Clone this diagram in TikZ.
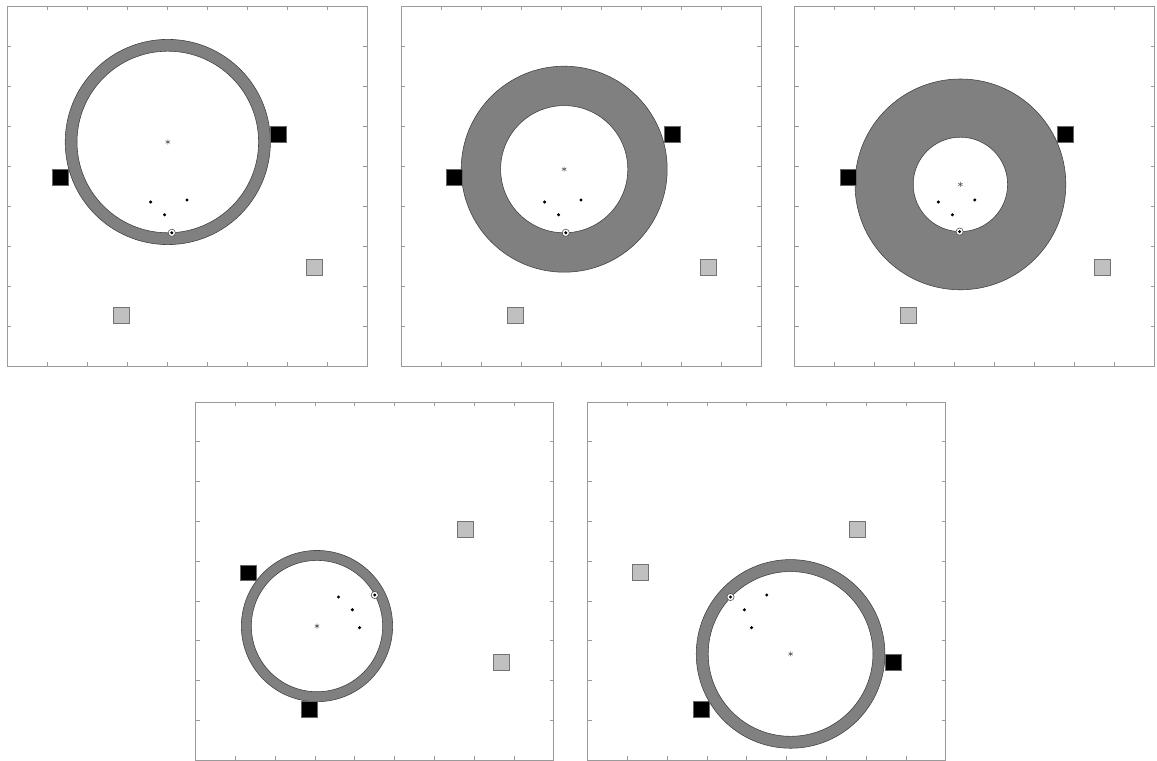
\documentclass[tikz,border=0pt]{standalone}
\usepackage{xcolor}
\usepackage{tikz}
\usetikzlibrary{plotmarks}
\definecolor{RingGray}{HTML}{808080}
\definecolor{BoxGray}{HTML}{C0C0C0}
\definecolor{AxisGray}{HTML}{9A9A9A}
\begin{document}
\begin{tikzpicture}[x=1cm,y=1cm,
  frame/.style={draw=AxisGray,line width=.6pt},
  tickmark/.style={draw=AxisGray,line width=.5pt},
  ring/.style={fill=RingGray,draw=black!75,line width=.4pt,even odd rule},
  blackbox/.style={fill=black,draw=black!60,line width=.3pt},
  greybox/.style={fill=BoxGray,draw=black!55,line width=.5pt},
  centremark/.style={draw=black!65,line width=.4pt,mark=asterisk,mark size=1.8pt},
  ringdot/.style={fill=white,draw=black!70,line width=.4pt}]
\path[use as bounding box] (0,0) rectangle (28.925,19.025);
\fill[white] (0,0) rectangle (28.925,19.025);

% top row, panel 1
\begin{scope}[shift={(0.175,9.875)}]
\draw[frame] (0,0) rectangle (9,9);
\foreach \t in {1,...,8} {
  \draw[tickmark] (\t,0) -- ++(0,.1); \draw[tickmark] (\t,9) -- ++(0,-.1);
  \draw[tickmark] (0,\t) -- ++(.1,0); \draw[tickmark] (9,\t) -- ++(-.1,0);
}
\draw[ring] (4.02,5.60) circle (2.565) (4.02,5.60) circle (2.27);
\draw[blackbox] (6.57,5.60) rectangle (6.97,6.00);
\draw[blackbox] (1.13,4.51) rectangle (1.53,4.91);
\draw[greybox] (7.48,2.27) rectangle (7.88,2.67);
\draw[greybox] (2.65,1.07) rectangle (3.05,1.47);
\path[centremark] plot coordinates {(4.02,5.60)};
\fill (3.59,4.10) circle (0.042);
\fill (4.50,4.15) circle (0.042);
\fill (3.94,3.78) circle (0.042);
\draw[ringdot] (4.12,3.33) circle (0.09);
\fill (4.12,3.33) circle (0.042);
\end{scope}

% top row, panel 2
\begin{scope}[shift={(10.025,9.875)}]
\draw[frame] (0,0) rectangle (9,9);
\foreach \t in {1,...,8} {
  \draw[tickmark] (\t,0) -- ++(0,.1); \draw[tickmark] (\t,9) -- ++(0,-.1);
  \draw[tickmark] (0,\t) -- ++(.1,0); \draw[tickmark] (9,\t) -- ++(-.1,0);
}
\draw[ring] (4.08,4.92) circle (2.575) (4.08,4.92) circle (1.59);
\draw[blackbox] (6.57,5.60) rectangle (6.97,6.00);
\draw[blackbox] (1.13,4.51) rectangle (1.53,4.91);
\draw[greybox] (7.48,2.27) rectangle (7.88,2.67);
\draw[greybox] (2.65,1.07) rectangle (3.05,1.47);
\path[centremark] plot coordinates {(4.08,4.92)};
\fill (3.59,4.10) circle (0.042);
\fill (4.50,4.15) circle (0.042);
\fill (3.94,3.78) circle (0.042);
\draw[ringdot] (4.12,3.33) circle (0.09);
\fill (4.12,3.33) circle (0.042);
\end{scope}

% top row, panel 3
\begin{scope}[shift={(19.87,9.875)}]
\draw[frame] (0,0) rectangle (9,9);
\foreach \t in {1,...,8} {
  \draw[tickmark] (\t,0) -- ++(0,.1); \draw[tickmark] (\t,9) -- ++(0,-.1);
  \draw[tickmark] (0,\t) -- ++(.1,0); \draw[tickmark] (9,\t) -- ++(-.1,0);
}
\draw[ring] (4.14,4.54) circle (2.635) (4.14,4.54) circle (1.18);
\draw[blackbox] (6.57,5.60) rectangle (6.97,6.00);
\draw[blackbox] (1.13,4.51) rectangle (1.53,4.91);
\draw[greybox] (7.48,2.27) rectangle (7.88,2.67);
\draw[greybox] (2.65,1.07) rectangle (3.05,1.47);
\path[centremark] plot coordinates {(4.14,4.54)};
\fill (3.59,4.10) circle (0.042);
\fill (4.50,4.15) circle (0.042);
\fill (3.94,3.78) circle (0.042);
\draw[ringdot] (4.12,3.36) circle (0.09);
\fill (4.12,3.36) circle (0.042);
\end{scope}

% bottom row, panel 4
\begin{scope}[shift={(4.89,0.02)},scale=.995]
\draw[frame] (0,0) rectangle (9,9);
\foreach \t in {1,...,8} {
  \draw[tickmark] (\t,0) -- ++(0,.1); \draw[tickmark] (\t,9) -- ++(0,-.1);
  \draw[tickmark] (0,\t) -- ++(.1,0); \draw[tickmark] (9,\t) -- ++(-.1,0);
}
\draw[ring] (3.05,3.37) circle (1.90) (3.05,3.37) circle (1.65);
\draw[greybox] (6.57,5.60) rectangle (6.97,6.00);
\draw[blackbox] (1.13,4.51) rectangle (1.53,4.91);
\draw[greybox] (7.48,2.27) rectangle (7.88,2.67);
\draw[blackbox] (2.65,1.07) rectangle (3.05,1.47);
\path[centremark] plot coordinates {(3.05,3.37)};
\fill (3.59,4.10) circle (0.042);
\fill (3.94,3.78) circle (0.042);
\fill (4.12,3.33) circle (0.042);
\draw[ringdot] (4.50,4.15) circle (0.09);
\fill (4.50,4.15) circle (0.042);
\end{scope}

% bottom row, panel 5
\begin{scope}[shift={(14.69,0.02)},scale=.995]
\draw[frame] (0,0) rectangle (9,9);
\foreach \t in {1,...,8} {
  \draw[tickmark] (\t,0) -- ++(0,.1); \draw[tickmark] (\t,9) -- ++(0,-.1);
  \draw[tickmark] (0,\t) -- ++(.1,0); \draw[tickmark] (9,\t) -- ++(-.1,0);
}
\draw[ring] (5.10,2.67) circle (2.37) (5.10,2.67) circle (2.07);
\draw[greybox] (6.57,5.60) rectangle (6.97,6.00);
\draw[greybox] (1.13,4.51) rectangle (1.53,4.91);
\draw[blackbox] (7.48,2.27) rectangle (7.88,2.67);
\draw[blackbox] (2.65,1.07) rectangle (3.05,1.47);
\path[centremark] plot coordinates {(5.10,2.67)};
\fill (4.50,4.15) circle (0.042);
\fill (3.94,3.78) circle (0.042);
\fill (4.12,3.33) circle (0.042);
\draw[ringdot] (3.59,4.10) circle (0.09);
\fill (3.59,4.10) circle (0.042);
\end{scope}
\end{tikzpicture}
\end{document}
